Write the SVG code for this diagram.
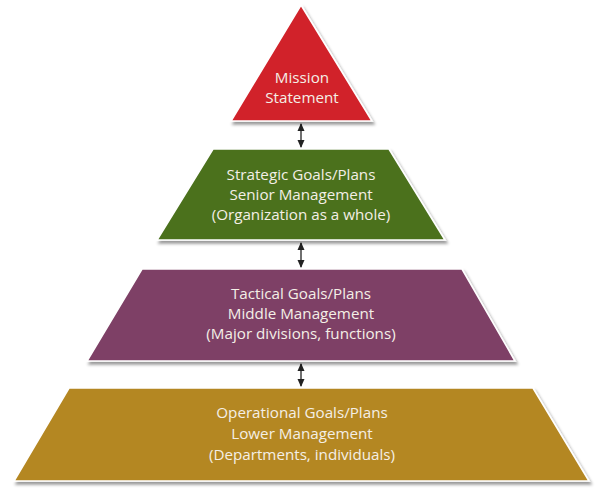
<svg xmlns="http://www.w3.org/2000/svg" width="608" height="493" viewBox="0 0 608 493">
<defs>
<filter id="sh" x="-10%" y="-10%" width="130%" height="130%">
<feDropShadow dx="2" dy="3" stdDeviation="1.6" flood-color="#000" flood-opacity="0.4"/>
</filter>
<marker id="ah" viewBox="0 0 8 10" refX="7" refY="5" markerWidth="8" markerHeight="10" markerUnits="userSpaceOnUse" orient="auto-start-reverse">
<path d="M0,1.5 L8,5 L0,8.5 Z" fill="#222"/>
</marker>
<style>
.shape{stroke:#fff;stroke-width:1.6;stroke-linejoin:miter;filter:url(#sh)}
.lbl{font-family:"Open Sans",Lato,"Liberation Sans",sans-serif;font-size:15.2px;fill:#f4efe6;text-anchor:middle}
.conn{stroke:#333;stroke-width:1.4;fill:none;marker-start:url(#ah);marker-end:url(#ah)}
</style>
</defs>
<rect width="608" height="493" fill="#fff"/>
<g id="connectors">
<line class="conn" x1="301" y1="124" x2="301" y2="147"/>
<line class="conn" x1="301" y1="243" x2="301" y2="267"/>
<line class="conn" x1="301" y1="364" x2="301" y2="386"/>
</g>
<g id="mission">
<polygon class="shape" points="301,5 372,121 231,121" fill="#d1232b"/>
<text class="lbl" x="302" y="83">Mission</text>
<text class="lbl" x="302" y="103">Statement</text>
</g>
<g id="strategic">
<polygon class="shape" points="213,149 389,149 445,240 157,240" fill="#4b711e"/>
<text class="lbl" x="301" y="180">Strategic Goals/Plans</text>
<text class="lbl" x="301" y="200">Senior Management</text>
<text class="lbl" x="301" y="220">(Organization as a whole)</text>
</g>
<g id="tactical">
<polygon class="shape" points="142,269 462,269 515,361 87,361" fill="#7e4166"/>
<text class="lbl" x="301" y="299">Tactical Goals/Plans</text>
<text class="lbl" x="301" y="319">Middle Management</text>
<text class="lbl" x="301" y="339">(Major divisions, functions)</text>
</g>
<g id="operational">
<polygon class="shape" points="69,388 533,388 589,481 14,481" fill="#b48724"/>
<text class="lbl" x="302" y="418">Operational Goals/Plans</text>
<text class="lbl" x="302" y="439">Lower Management</text>
<text class="lbl" x="302" y="460">(Departments, individuals)</text>
</g>
</svg>
